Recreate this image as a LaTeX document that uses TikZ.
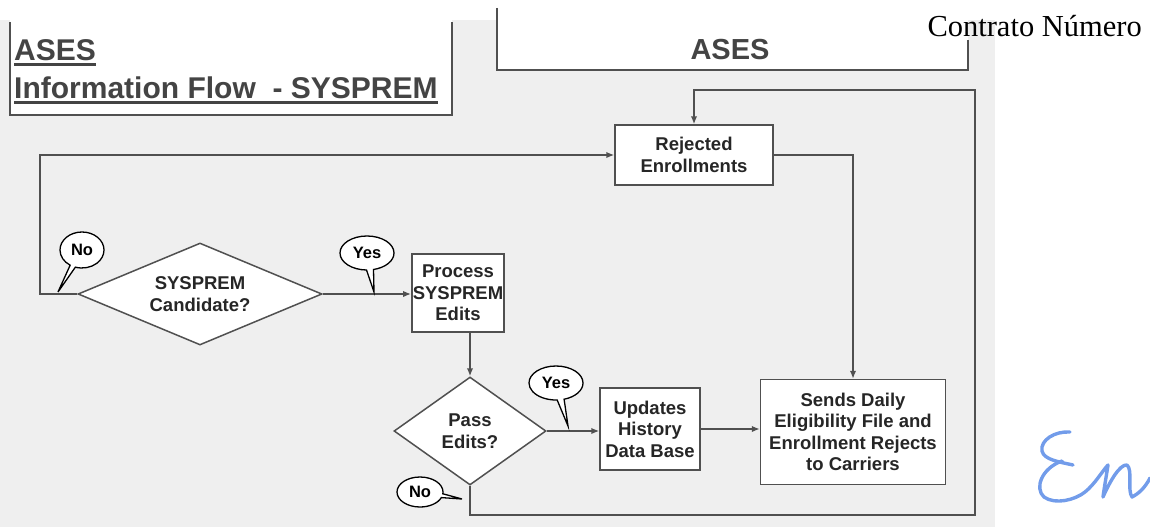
\documentclass[tikz,border=0pt]{standalone}
\usepackage{fontspec}
\setmainfont{Liberation Sans}
\newfontfamily\serifcontract{Liberation Serif}
\usetikzlibrary{arrows.meta,shapes.geometric,shapes.callouts}
\definecolor{bggray}{HTML}{EFEFEF}
\definecolor{linegray}{HTML}{505050}
\definecolor{txtgray}{HTML}{262626}
\definecolor{titlegray}{HTML}{444444}
\definecolor{sigblue}{HTML}{729CEA}
\tikzset{
  every node/.style={font=\bfseries\fontsize{18.5}{21.5}\selectfont, text=txtgray},
  procbox/.style={draw=linegray, line width=1.5pt, fill=white, align=center, inner sep=1pt},
  decision/.style={diamond, draw=linegray, line width=1.5pt, fill=white, align=center, inner sep=0pt},
  flow/.style={draw=linegray, line width=1.5pt, -{Latex[length=8pt,width=6.5pt]}},
  bubble/.style={ellipse callout, draw=black, line width=1.3pt, fill=white, inner sep=1pt,
     font=\bfseries\fontsize{16.5}{18}\selectfont, text=black},
  frameline/.style={draw=linegray, line width=1.5pt},
  sig/.style={draw=sigblue, line width=3.4pt, line cap=round, line join=round}
}
\begin{document}
\begin{tikzpicture}[x=1pt,y=-1pt]
\useasboundingbox (0,0) rectangle (1150,527);
\fill[bggray] (0,20) rectangle (995,527);

% title box (open at top)
\fill[white] (10,20) rectangle (452,115);
\draw[frameline] (10,22) -- (10,115) -- (452,115) -- (452,22);
\node[anchor=base west, inner sep=0pt, font=\bfseries\fontsize{30}{33}\selectfont, text=titlegray] (t1) at (14,60) {ASES};
\node[anchor=base west, inner sep=0pt, font=\bfseries\fontsize{30}{33}\selectfont, text=titlegray] (t2) at (14,98) {Information Flow\ \ - SYSPREM};
\draw[titlegray, line width=2.8pt] ([yshift=-4.5pt]t1.base west) -- ([yshift=-4.5pt]t1.base east);
\draw[titlegray, line width=2.8pt] ([yshift=-4.5pt]t2.base west) -- ([yshift=-4.5pt]t2.base east);

% ASES box (open at top)
\fill[white] (497,0) rectangle (968,70);
\draw[frameline] (497,8) -- (497,70) -- (968,70) -- (968,40);
\node[font=\bfseries\fontsize{29}{32}\selectfont, text=titlegray] (ases) at (730,50) {ASES};

\node[anchor=base east, inner sep=0pt, font=\serifcontract\fontsize{30.5}{33}\selectfont, text=black] (contrato) at (1142,37) {Contrato Número};

% nodes
\node[procbox, minimum width=158pt, minimum height=60pt] (rej) at (694,155) {Rejected\\Enrollments};
\node[decision, aspect=2.4, minimum width=244pt, minimum height=102pt] (cand) at (200,294) {SYSPREM\\Candidate?};
\node[procbox, minimum width=88pt, minimum height=78pt] (proc) at (458,293) {Process\\SYSPREM\\Edits};
\node[decision, aspect=1.4, minimum width=152pt, minimum height=108pt] (pass) at (470,431) {Pass\\Edits?};
\node[procbox, minimum width=100pt, minimum height=82pt] (upd) at (650,429) {Updates\\History\\Data Base};
\node[procbox, minimum width=185pt, minimum height=105pt] (send) at (853,432) {Sends Daily\\Eligibility File and\\Enrollment Rejects\\to Carriers};

\coordinate (lc) at (40,155);
\coordinate (br) at (975,515);
\coordinate (tr) at (975,90);

% connectors
\draw[flow] (cand.west) -| (lc) -- (rej.west);
\draw[flow] (cand.east) -- (cand.east -| proc.west);
\draw[flow] (proc.south -| pass.north) -- (pass.north);
\draw[flow] (pass.east) -- (pass.east -| upd.west);
\draw[flow] (upd.east) -- (upd.east -| send.west);
\draw[flow] (rej.east) -| (send.north);
\draw[flow] (pass.south) |- (br) -- (tr) -| (rej.north);

% callouts
\node[bubble, minimum width=44pt, minimum height=36pt, callout absolute pointer={(58,292)}] (no1) at (82,250) {No};
\node[bubble, minimum width=54pt, minimum height=34pt, callout absolute pointer={(374,292)}] (yes1) at (367,253) {Yes};
\node[bubble, minimum width=54pt, minimum height=34pt, callout absolute pointer={(568,426)}] (yes2) at (556,383) {Yes};
\node[bubble, minimum width=46pt, minimum height=30pt, callout absolute pointer={(462,499)}] (no2) at (420,492) {No};

% signature
\draw[sig] (1070,432) .. controls (1055,431) and (1040,440) .. (1042,451) .. controls (1044,460) and (1060,462) .. (1073,465);
\draw[sig] (1062,461) .. controls (1042,468) and (1034,488) .. (1044,497) .. controls (1055,505) and (1075,500) .. (1085,492) .. controls (1095,484) and (1103,470) .. (1108,465) .. controls (1106,478) and (1104,489) .. (1103,497) .. controls (1110,481) and (1120,464) .. (1127,465) .. controls (1133,470) and (1127,490) .. (1132,497) .. controls (1138,494) and (1145,488) .. (1150,478);
\end{tikzpicture}
\end{document}
